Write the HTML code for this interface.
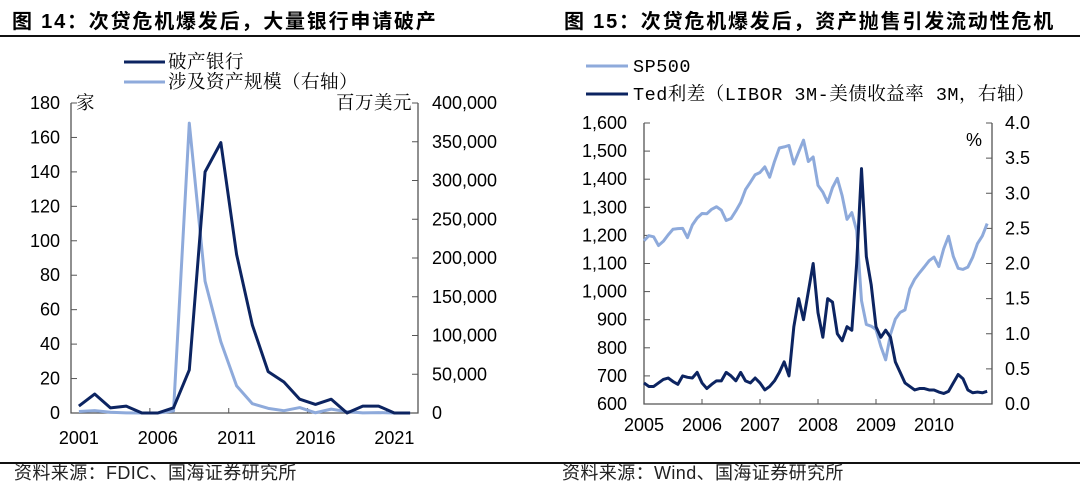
<!DOCTYPE html>
<html><head><meta charset="utf-8">
<style>
body{margin:0;background:#fff;width:1080px;height:497px;overflow:hidden;font-family:"Liberation Sans","Noto Sans CJK SC",sans-serif;}
svg{display:block}
.t{font-family:"Liberation Sans","Noto Sans CJK SC",sans-serif;font-weight:bold;font-size:20px;letter-spacing:1.8px;fill:#000}
.tk{font-family:"Liberation Sans",sans-serif;font-size:18px;fill:#000}
.lg{font-family:"Liberation Mono","Noto Serif CJK SC",serif;font-size:18.5px;fill:#000;letter-spacing:0.5px}
.src{font-family:"Liberation Sans","Noto Sans CJK SC",sans-serif;font-size:18px;fill:#222;letter-spacing:0.4px}
</style></head><body>
<svg id="s" width="1080" height="497" xmlns="http://www.w3.org/2000/svg">
<text class="t" x="12" y="28">图 14：次贷危机爆发后，大量银行申请破产</text>
<text class="t" x="564" y="28">图 15：次贷危机爆发后，资产抛售引发流动性危机</text>
<rect x="0" y="35" width="1080" height="2" fill="#111"/>
<rect x="0" y="462" width="1080" height="2" fill="#111"/>
<text class="src" x="14" y="479">资料来源：FDIC、国海证券研究所</text>
<text class="src" x="562" y="479">资料来源：Wind、国海证券研究所</text>

<g>
<line x1="124" y1="62" x2="165" y2="62" stroke="#0c2461" stroke-width="3"/>
<text class="lg" x="168" y="68">破产银行</text>
<line x1="124" y1="82" x2="165" y2="82" stroke="#8eaadb" stroke-width="3"/>
<text class="lg" x="168" y="88">涉及资产规模（右轴）</text>
</g>
<g>
<line x1="586" y1="66" x2="628" y2="66" stroke="#8eaadb" stroke-width="3"/>
<text class="lg" x="633" y="72">SP500</text>
<line x1="586" y1="94" x2="628" y2="94" stroke="#0c2461" stroke-width="3"/>
<text class="lg" x="633" y="100">Ted利差（LIBOR 3M-美债收益率 3M，右轴）</text>
</g>
<g id="L"></g><g id="R"></g>
</svg>
<script>
const years=[2001,2002,2003,2004,2005,2006,2007,2008,2009,2010,2011,2012,2013,2014,2015,2016,2017,2018,2019,2020,2021,2022];
const banks=[4,11,3,4,0,0,3,25,140,157,92,51,24,18,8,5,8,0,4,4,0,0];
const assets=[2000,3000,1000,200,0,0,2600,374000,170000,92000,35000,12000,6000,3000,7000,300,5000,1700,200,500,0,0];
const leftTicks=[0,20,40,60,80,100,120,140,160,180];
const rightTicks=[0,50000,100000,150000,200000,250000,300000,350000,400000];
const yearLabels=["2001","2006","2011","2016","2021"];

const tedYears=[2005,2006,2007,2008,2009,2010];
const sp500=[1181,1199,1195,1164,1179,1202,1222,1224,1225,1192,1237,1262,
1278,1277,1293,1302,1290,1253,1260,1287,1317,1363,1389,1416,
1424,1444,1407,1463,1511,1515,1520,1454,1497,1539,1463,1479,
1378,1354,1317,1370,1403,1341,1257,1281,1217,968,883,877,
865,805,757,848,902,926,935,1010,1044,1067,1088,1110,
1123,1089,1152,1197,1125,1083,1079,1087,1122,1171,1198,1242];
const ted=[.3,.25,.25,.3,.35,.37,.32,.28,.4,.38,.37,.45,
.3,.22,.28,.33,.33,.45,.4,.33,.45,.33,.3,.37,
.3,.2,.25,.33,.45,.6,.4,1.1,1.5,1.2,1.6,2.0,
1.3,.95,1.5,1.45,1.0,.9,1.1,1.05,2.0,3.35,2.1,1.7,
1.1,.95,1.05,.95,.6,.45,.3,.25,.2,.22,.22,.2,
.2,.17,.15,.18,.3,.42,.36,.2,.16,.17,.16,.18];
const spTicks=[600,700,800,900,1000,1100,1200,1300,1400,1500,1600];
const tedTicks=[0,0.5,1,1.5,2,2.5,3,3.5,4];

const NS="http://www.w3.org/2000/svg";
function mk(p,tag,a){const e=document.createElementNS(NS,tag);for(const k in a)e.setAttribute(k,a[k]);p.appendChild(e);return e;}
const fmt=v=>v.toString().replace(/\B(?=(\d{3})+(?!\d))/g,",");

(function(){
const g=document.getElementById('L');
const x0=71,x1=418,yT=103,yB=413;
const cw=(x1-x0)/years.length;
const X=i=>x0+cw*(i+0.5);
const YL=v=>yB-(v/180)*(yB-yT);
const YR=v=>yB-(v/400000)*(yB-yT);
const ax=mk(g,'path',{d:`M${x0},${yT}V${yB}H${x1}V${yT}`,fill:'none',stroke:'#555','stroke-width':1.3});

leftTicks.forEach(v=>{const y=YL(v);mk(g,'line',{x1:x0,x2:x0+6,y1:y,y2:y,stroke:'#555'});
const t=mk(g,'text',{x:60,y:y+6,'text-anchor':'end',class:'tk'});t.textContent=v;
});
rightTicks.forEach(v=>{const y=YR(v);mk(g,'line',{x1:x1-6,x2:x1,y1:y,y2:y,stroke:'#555'});
const t=mk(g,'text',{x:432,y:y+6,class:'tk'});t.textContent=fmt(v);
});
for(let k=5;k<years.length;k+=5){const x=x0+cw*k;mk(g,'line',{x1:x,x2:x,y1:yB,y2:yB-5,stroke:'#555'});}
yearLabels.forEach(l=>{const i=years.indexOf(+l);const t=mk(g,'text',{x:X(i),y:yB+31,'text-anchor':'middle',class:'tk'});t.textContent=l;
});
let u=mk(g,'text',{x:76,y:109,class:'lg'});u.textContent='家';
u=mk(g,'text',{x:412,y:109,'text-anchor':'end',class:'lg'});u.textContent='百万美元';
let p=mk(g,'polyline',{points:assets.map((v,i)=>X(i)+','+YR(v)).join(' '),fill:'none',stroke:'#8eaadb','stroke-width':3,'stroke-linejoin':'round'});

p=mk(g,'polyline',{points:banks.map((v,i)=>X(i)+','+YL(v)).join(' '),fill:'none',stroke:'#0c2461','stroke-width':3,'stroke-linejoin':'round'});

})();

(function(){
const g=document.getElementById('R');
const x0=644,x1=992,yT=123,yB=404;
const X=t=>x0+(t-2005)*(x1-x0)/6;
const YL=v=>yB-(v-600)/1000*(yB-yT);
const YR=v=>yB-v/4*(yB-yT);
const ax=mk(g,'path',{d:`M${x0},${yT}V${yB}H${x1}V${yT}`,fill:'none',stroke:'#555','stroke-width':1.3});

spTicks.forEach(v=>{const y=YL(v);mk(g,'line',{x1:x0,x2:x0+6,y1:y,y2:y,stroke:'#555'});
const t=mk(g,'text',{x:627,y:y+6,'text-anchor':'end',class:'tk'});t.textContent=fmt(v);
});
tedTicks.forEach(v=>{const y=YR(v);mk(g,'line',{x1:x1-6,x2:x1,y1:y,y2:y,stroke:'#555'});
const t=mk(g,'text',{x:1005,y:y+6,class:'tk'});t.textContent=v.toFixed(1);
});
tedYears.forEach(yr=>{const x=X(yr);mk(g,'line',{x1:x,x2:x,y1:yB,y2:yB-5,stroke:'#555'});
const t=mk(g,'text',{x:x,y:yB+27,'text-anchor':'middle',class:'tk'});t.textContent=yr;
});
let u=mk(g,'text',{x:966,y:146,class:'tk'});u.textContent='%';
const tm=i=>2005+i/12;
let p=mk(g,'polyline',{points:sp500.map((v,i)=>X(tm(i))+','+YL(v)).join(' '),fill:'none',stroke:'#8eaadb','stroke-width':3,'stroke-linejoin':'round'});

p=mk(g,'polyline',{points:ted.map((v,i)=>X(tm(i))+','+YR(v)).join(' '),fill:'none',stroke:'#0c2461','stroke-width':3,'stroke-linejoin':'round'});

})();
</script>
</body></html>
